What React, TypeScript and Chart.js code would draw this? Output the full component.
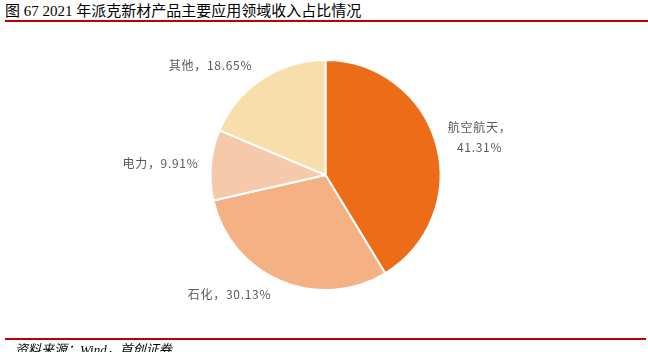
import React, { useEffect, useRef } from "react";
import { Chart, registerables } from "chart.js";

Chart.register(...registerables);

const categories = ["航空航天", "石化", "电力", "其他"];
const shares = [41.31, 30.13, 9.91, 18.65];
const sliceColors = ["#EC6C17", "#F4B183", "#F7C9AB", "#F8DEAA"];
const titleText = "图 67 2021 年派克新材产品主要应用领域收入占比情况";
const sourceText = "资料来源：Wind，首创证券";

// label placement relative to pie center, in units of radius
const labelOffsets: [number, number][] = [
  [1.34, -0.33],
  [-0.835, 1.035],
  [-1.435, -0.1],
  [-1.0, -0.955],
];

const labelPlugin = {
  id: "pieLabels",
  afterDatasetsDraw(chart: any) {
    const ctx = chart.ctx;
    const meta = chart.getDatasetMeta(0);
    ctx.save();
    ctx.fillStyle = "#595959";
    ctx.font = '12px "Noto Sans CJK SC", sans-serif';
    try {
      (ctx as any).letterSpacing = "0.7px";
    } catch (e) {}
    ctx.textAlign = "center";
    ctx.textBaseline = "middle";
    meta.data.forEach((arc: any, i: number) => {
      const { x, y, outerRadius } = arc.getProps(["x", "y", "outerRadius"], true);
      const lx = x + labelOffsets[i][0] * outerRadius;
      const ly = y + labelOffsets[i][1] * outerRadius;
      const val = shares[i].toFixed(2) + "%";
      if (i === 0) {
        ctx.fillText(categories[i] + "，", lx, ly - 10);
        ctx.fillText(val, lx, ly + 10);
      } else {
        ctx.fillText(categories[i] + "，" + val, lx, ly);
      }
    });
    ctx.restore();
  },
};

export default function App() {
  const ref = useRef<HTMLCanvasElement>(null);
  useEffect(() => {
    document.body.style.margin = "0";
    const chart = new Chart(ref.current!, {
      type: "pie",
      data: {
        labels: categories,
        datasets: [
          {
            data: shares,
            backgroundColor: sliceColors,
            borderColor: "#FFFFFF",
            borderWidth: 2,
          },
        ],
      },
      options: {
        animation: false,
        responsive: false,
        layout: { padding: { left: 209, right: 206, top: 59, bottom: 61 } },
        plugins: { legend: { display: false }, tooltip: { enabled: false } },
      },
      plugins: [labelPlugin],
    });
    return () => chart.destroy();
  }, []);

  return (
    <div style={{ position: "fixed", left: 0, top: 0, width: 648, height: 352, background: "#fff", overflow: "hidden" }}>
      <div
        style={{
          position: "absolute",
          left: 5,
          top: 2,
          fontSize: 15,
          lineHeight: "18px",
          fontFamily: '"Liberation Serif", "Noto Sans CJK SC", serif',
          color: "#000",
          whiteSpace: "nowrap",
        }}
      >
        {titleText}
      </div>
      <div style={{ position: "absolute", left: 5, top: 20, width: 643, height: 2, background: "#C00000" }} />
      <canvas ref={ref} width={648} height={352} style={{ position: "absolute", left: 0, top: 0 }} />
      <div style={{ position: "absolute", left: 5, top: 338, width: 641, height: 2, background: "#C00000" }} />
      <div
        style={{
          position: "absolute",
          left: 15,
          top: 342,
          fontSize: 13,
          lineHeight: "16px",
          fontStyle: "italic",
          fontFamily: '"Liberation Serif", "Noto Sans CJK SC", serif',
          color: "#000",
          whiteSpace: "nowrap",
        }}
      >
        {sourceText}
      </div>
    </div>
  );
}
